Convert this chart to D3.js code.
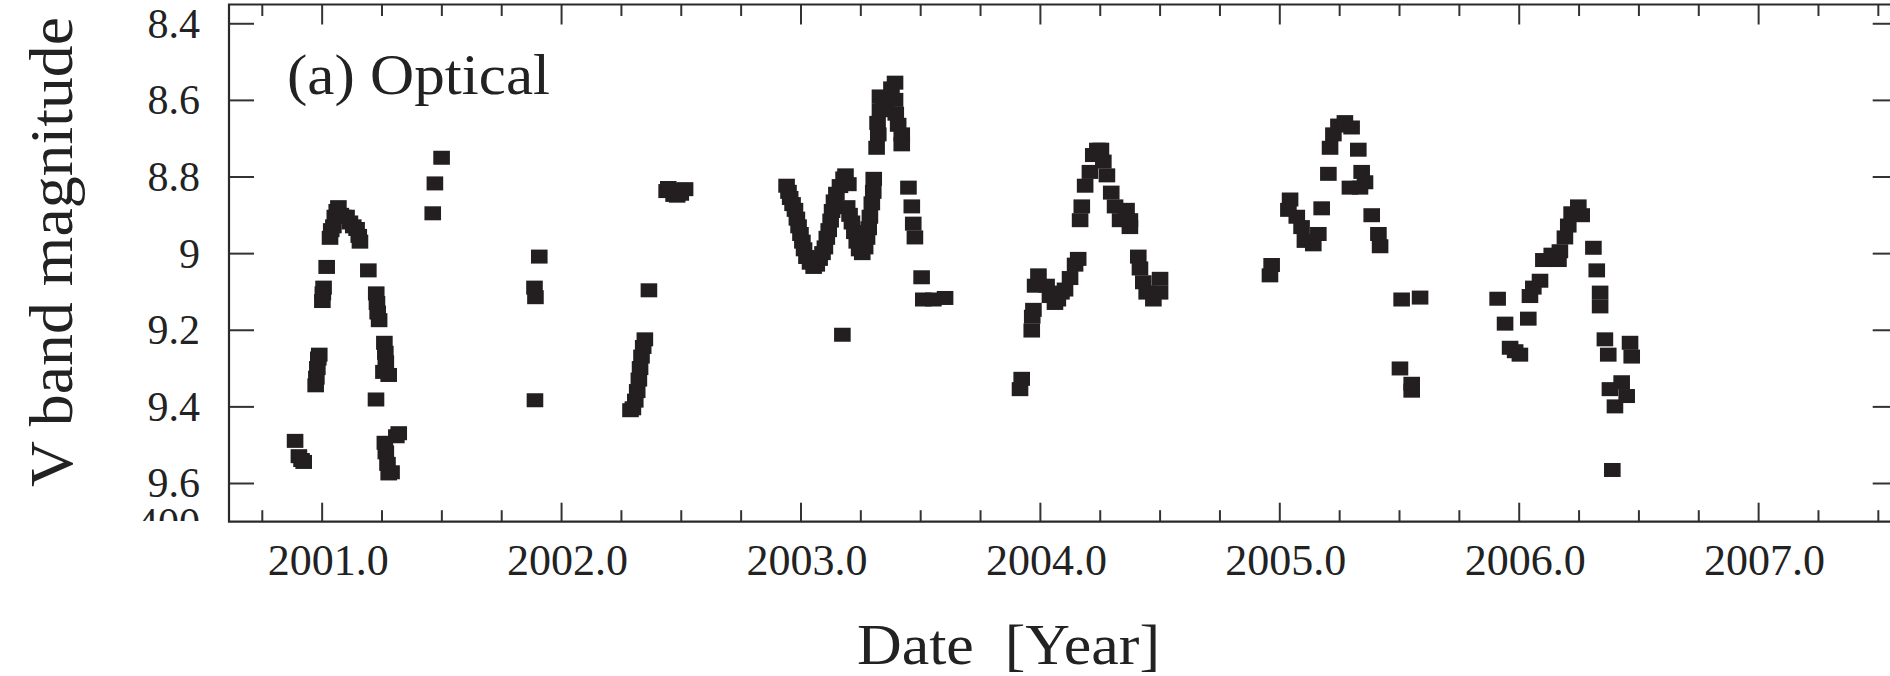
<!DOCTYPE html>
<html>
<head>
<meta charset="utf-8">
<script src="https://cdn.jsdelivr.net/npm/d3@7"></script>
<style>
  html, body { margin: 0; padding: 0; background: #fff; }
  svg { display: block; }
  text { font-family: "Liberation Serif", "Times New Roman", serif; fill: #222; }
</style>
</head>
<body>
<svg id="chart" width="1890" height="676"></svg>
<script>
// ---- Data (decimal year, V magnitude) ----
const season2000 = [
  [2000.889, 9.490], [2000.905, 9.530], [2000.916, 9.540], [2000.925, 9.545],
  [2000.975, 9.345], [2000.978, 9.325], [2000.982, 9.300], [2000.986, 9.275], [2000.990, 9.265],
  [2001.003, 9.125], [2001.005, 9.105], [2001.008, 9.090], [2001.021, 9.036],
  [2001.035, 8.960], [2001.040, 8.940], [2001.049, 8.930], [2001.055, 8.905], [2001.063, 8.890],
  [2001.070, 8.880], [2001.080, 8.900], [2001.090, 8.905], [2001.104, 8.905], [2001.118, 8.920],
  [2001.132, 8.930], [2001.146, 8.937], [2001.155, 8.955], [2001.160, 8.970],
  [2001.195, 9.045],
  [2001.228, 9.105], [2001.231, 9.130], [2001.234, 9.155], [2001.240, 9.175],
  [2001.227, 9.382],
  [2001.262, 9.234], [2001.266, 9.260], [2001.268, 9.285], [2001.258, 9.310], [2001.280, 9.318],
  [2001.264, 9.495], [2001.268, 9.520], [2001.275, 9.550], [2001.280, 9.575], [2001.292, 9.572],
  [2001.312, 9.478], [2001.322, 9.470]
];
const season2001 = [
  [2001.464, 8.896], [2001.473, 8.818], [2001.501, 8.751],
  [2001.909, 9.009], [2001.889, 9.090], [2001.893, 9.115], [2001.891, 9.384]
];
const season2002 = [
  [2002.290, 9.410], [2002.300, 9.405], [2002.310, 9.385], [2002.318, 9.360], [2002.325, 9.330],
  [2002.330, 9.300], [2002.336, 9.270], [2002.343, 9.245], [2002.350, 9.225],
  [2002.367, 9.097],
  [2002.441, 8.838], [2002.448, 8.830], [2002.460, 8.835], [2002.470, 8.848], [2002.485, 8.850],
  [2002.500, 8.845], [2002.518, 8.833]
];
const season2003 = [
  [2002.942, 8.824], [2002.950, 8.840], [2002.957, 8.856], [2002.967, 8.872], [2002.977, 8.887],
  [2002.985, 8.910], [2002.992, 8.930], [2003.000, 8.950], [2003.008, 8.970], [2003.015, 8.990],
  [2003.025, 9.010], [2003.040, 9.025], [2003.055, 9.036], [2003.068, 9.030], [2003.080, 9.015],
  [2003.092, 9.000], [2003.102, 8.985], [2003.110, 8.960], [2003.118, 8.940], [2003.126, 8.915],
  [2003.132, 8.890], [2003.140, 8.865], [2003.150, 8.845], [2003.165, 8.825], [2003.180, 8.805],
  [2003.188, 8.797], [2003.200, 8.820],
  [2003.195, 8.880], [2003.205, 8.900], [2003.215, 8.920], [2003.225, 8.945], [2003.235, 8.970],
  [2003.245, 8.990], [2003.258, 9.000], [2003.270, 8.985], [2003.278, 8.960], [2003.285, 8.935],
  [2003.290, 8.905], [2003.298, 8.870], [2003.304, 8.840], [2003.306, 8.806],
  [2003.318, 8.725], [2003.325, 8.690], [2003.322, 8.660], [2003.332, 8.627], [2003.332, 8.591],
  [2003.345, 8.605], [2003.360, 8.600], [2003.380, 8.570],
  [2003.395, 8.555], [2003.395, 8.600], [2003.398, 8.636], [2003.408, 8.665],
  [2003.423, 8.690], [2003.423, 8.716],
  [2003.451, 8.829], [2003.465, 8.878], [2003.471, 8.923], [2003.478, 8.959],
  [2003.506, 9.063], [2003.513, 9.121], [2003.555, 9.121], [2003.604, 9.117],
  [2003.175, 9.213]
];
const season2004 = [
  [2003.924, 9.328], [2003.917, 9.355],
  [2003.966, 9.202], [2003.968, 9.166], [2003.973, 9.148], [2003.980, 9.085], [2003.994, 9.058],
  [2004.028, 9.085], [2004.042, 9.112], [2004.063, 9.130], [2004.075, 9.121], [2004.090, 9.103],
  [2004.105, 9.095], [2004.126, 9.065], [2004.147, 9.030], [2004.160, 9.015],
  [2004.168, 8.914], [2004.175, 8.878], [2004.189, 8.824], [2004.209, 8.788], [2004.223, 8.744],
  [2004.240, 8.730], [2004.255, 8.730],
  [2004.265, 8.761], [2004.280, 8.797], [2004.298, 8.842], [2004.314, 8.878], [2004.335, 8.914],
  [2004.362, 8.887], [2004.376, 8.914], [2004.376, 8.932],
  [2004.411, 9.009], [2004.418, 9.040], [2004.432, 9.076], [2004.446, 9.103], [2004.474, 9.121],
  [2004.502, 9.103], [2004.502, 9.067]
];
const season2005 = [
  [2004.968, 9.031], [2004.961, 9.058],
  [2005.045, 8.860], [2005.038, 8.887], [2005.073, 8.905], [2005.093, 8.932], [2005.107, 8.968],
  [2005.142, 8.977], [2005.163, 8.950], [2005.177, 8.883],
  [2005.205, 8.793], [2005.212, 8.725], [2005.226, 8.690], [2005.247, 8.667], [2005.274, 8.658],
  [2005.302, 8.672], [2005.330, 8.730],
  [2005.295, 8.829], [2005.344, 8.788], [2005.358, 8.815], [2005.337, 8.829],
  [2005.386, 8.901], [2005.414, 8.950], [2005.421, 8.982],
  [2005.511, 9.121], [2005.588, 9.116],
  [2005.504, 9.301], [2005.553, 9.341], [2005.553, 9.359]
];
const season2006 = [
  [2005.912, 9.119], [2005.943, 9.184],
  [2005.964, 9.247], [2005.985, 9.256], [2006.005, 9.265],
  [2006.040, 9.171], [2006.047, 9.112], [2006.061, 9.090], [2006.089, 9.072],
  [2006.103, 9.018], [2006.138, 9.004], [2006.166, 9.018], [2006.172, 8.995],
  [2006.193, 8.959], [2006.207, 8.928], [2006.221, 8.896], [2006.249, 8.878], [2006.263, 8.901],
  [2006.312, 8.986], [2006.326, 9.045], [2006.340, 9.103], [2006.340, 9.139],
  [2006.360, 9.225], [2006.374, 9.265], [2006.465, 9.234], [2006.472, 9.270],
  [2006.381, 9.355], [2006.430, 9.337], [2006.451, 9.373], [2006.402, 9.400],
  [2006.391, 9.566]
];

const yearTicks = [2001, 2002, 2003, 2004, 2005, 2006, 2007];
const yearTickLabels = ["2001.0", "2002.0", "2003.0", "2004.0", "2005.0", "2006.0", "2007.0"];
const minorYearTicks = [2000.75, 2001.25, 2001.5, 2001.75, 2002.25, 2002.5, 2002.75,
  2003.25, 2003.5, 2003.75, 2004.25, 2004.5, 2004.75, 2005.25, 2005.5, 2005.75,
  2006.25, 2006.5, 2006.75, 2007.25, 2007.5];
const magTicks = [8.4, 8.6, 8.8, 9.0, 9.2, 9.4, 9.6];
const magTickLabels = ["8.4", "8.6", "8.8", "9", "9.2", "9.4", "9.6"];

const allPoints = [].concat(season2000, season2001, season2002, season2003, season2004, season2005, season2006);

// ---- Layout ----
const L = 229, R = 1897.7, T = 4.5, B = 521.7;
const svg = d3.select("#chart");
const x = d3.scaleLinear().domain([2000.613, 2007.583]).range([L, R]);
const y = d3.scaleLinear().domain([8.351, 9.701]).range([T, B]);
const ink = "#231f20";

// Points
svg.append("g").selectAll("rect").data(allPoints).join("rect")
  .attr("x", d => x(d[0]) - 8.3)
  .attr("y", d => y(d[1]) - 7)
  .attr("width", 16.6)
  .attr("height", 14)
  .attr("fill", ink);

function styleAxis(g) {
  g.select(".domain").remove();
  g.selectAll(".tick line").attr("stroke", "#333").attr("stroke-width", 2);
}

// Bottom major with labels
const bottom = svg.append("g").attr("transform", `translate(0,${B})`)
  .call(d3.axisBottom(x).tickValues(yearTicks).tickSize(-19)
    .tickFormat((d, i) => yearTickLabels[i]));
styleAxis(bottom);
bottom.selectAll(".tick text")
  .attr("y", 53).attr("dy", 0).attr("dx", 6)
  .attr("font-size", 44).attr("fill", "#222")
  .style("font-family", "'Liberation Serif', serif");

svg.append("g").attr("transform", `translate(0,${B})`)
  .call(d3.axisBottom(x).tickValues(minorYearTicks).tickSize(-11.5).tickFormat(""))
  .call(styleAxis);

// Top
svg.append("g").attr("transform", `translate(0,${T})`)
  .call(d3.axisTop(x).tickValues(yearTicks).tickSize(-20).tickFormat(""))
  .call(styleAxis);
svg.append("g").attr("transform", `translate(0,${T})`)
  .call(d3.axisTop(x).tickValues(minorYearTicks).tickSize(-11.5).tickFormat(""))
  .call(styleAxis);

// Left with labels
const left = svg.append("g").attr("transform", `translate(${L},0)`)
  .call(d3.axisLeft(y).tickValues(magTicks).tickSize(-25)
    .tickFormat((d, i) => magTickLabels[i]));
styleAxis(left);
left.selectAll(".tick text")
  .attr("x", -29).attr("dy", "0.33em")
  .attr("font-size", 42).attr("fill", "#222")
  .style("font-family", "'Liberation Serif', serif");

// Right
svg.append("g").attr("transform", `translate(${R},0)`)
  .call(d3.axisRight(y).tickValues(magTicks).tickSize(-25).tickFormat(""))
  .call(styleAxis);

// Frame
svg.append("path")
  .attr("d", `M${L},${T}H${R}V${B}H${L}Z`)
  .attr("fill", "none").attr("stroke", "#2a2a2a").attr("stroke-width", 2.2);

// Clipped remnant label from panel below
svg.append("clipPath").attr("id", "clipRem")
  .append("rect").attr("x", 100).attr("y", 506).attr("width", 128).attr("height", 15);
svg.append("text")
  .attr("clip-path", "url(#clipRem)")
  .attr("x", 200).attr("y", 537)
  .attr("text-anchor", "end").attr("font-size", 42)
  .text("400");

// Panel label
svg.append("text")
  .attr("x", 287).attr("y", 94)
  .attr("font-size", 58)
  .attr("textLength", 263).attr("lengthAdjust", "spacingAndGlyphs")
  .text("(a) Optical");

// X title
svg.append("text")
  .attr("x", 857).attr("y", 664)
  .attr("font-size", 58)
  .attr("textLength", 303).attr("lengthAdjust", "spacingAndGlyphs")
  .style("white-space", "pre")
  .text("Date  [Year]");

// Y title
svg.append("text")
  .attr("transform", "translate(72,252) rotate(-90)")
  .attr("text-anchor", "middle")
  .attr("font-size", 62)
  .attr("textLength", 470).attr("lengthAdjust", "spacingAndGlyphs")
  .text("V band magnitude");
</script>
</body>
</html>
